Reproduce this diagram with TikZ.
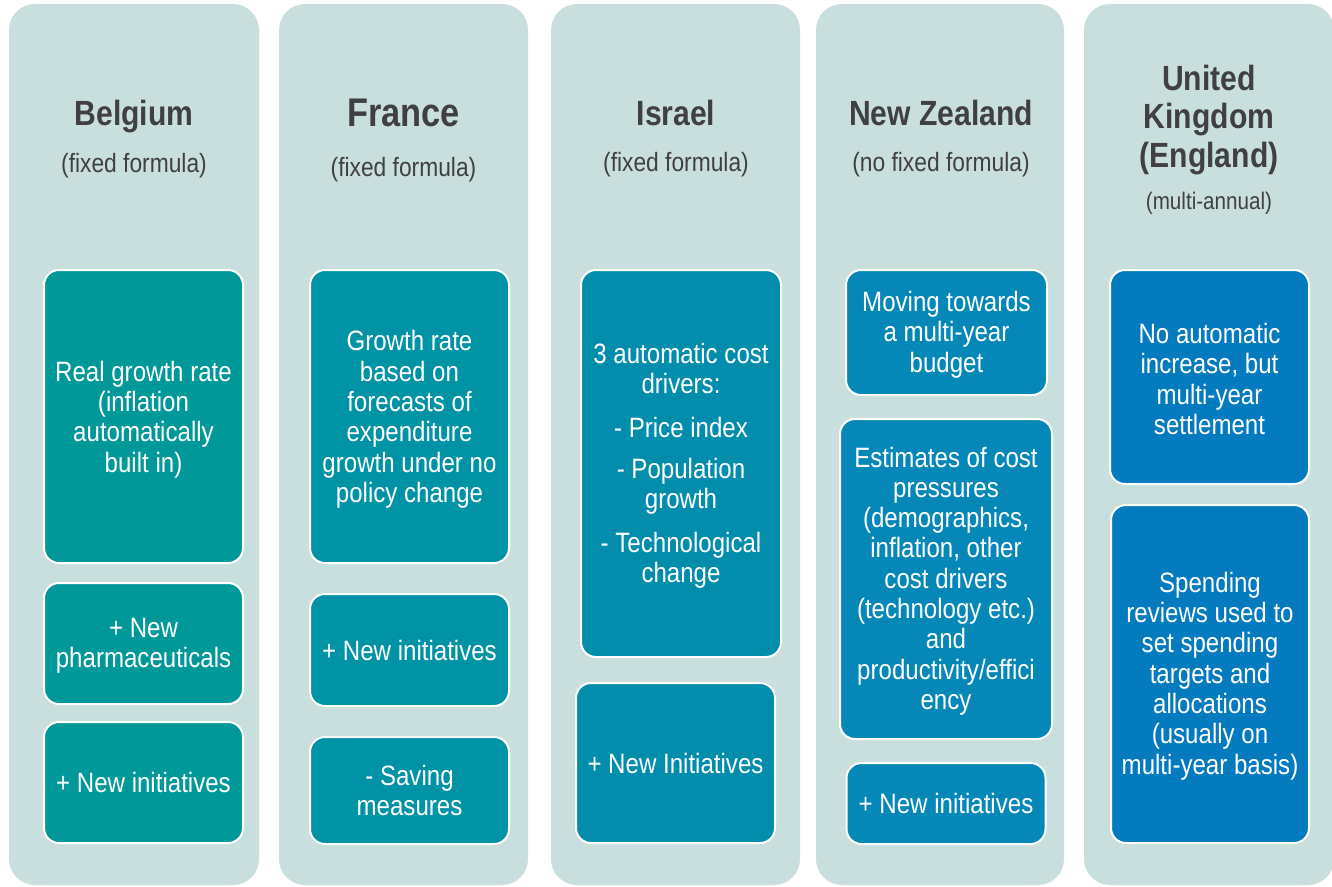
\documentclass[tikz,border=0pt]{standalone}
\usepackage{fontspec}
\setmainfont{Liberation Sans}[FakeStretch=0.86]
\definecolor{panelc}{RGB}{201,223,222}
\definecolor{titlec}{RGB}{64,64,64}
\definecolor{cbe}{RGB}{0,152,153}
\definecolor{cfr}{RGB}{0,146,165}
\definecolor{cis}{RGB}{3,141,172}
\definecolor{cnz}{RGB}{5,136,184}
\definecolor{cuk}{RGB}{5,123,191}
\tikzset{
  panel/.style={fill=panelc, draw=none, rounded corners=26pt, inner sep=0pt},
  ibox/.style={draw=white, line width=2pt, rounded corners=15pt, inner sep=0pt},
  itextbase/.style={text=white, align=center, inner sep=0pt,
    font=\fontsize{28}{30.3}\selectfont},
  itext/.style={itextbase, yshift=-3pt},
  itexttwo/.style={itextbase, yshift=-2pt},
  itextone/.style={itextbase},
  ttl/.style={text=titlec, align=center, font=\bfseries\fontsize{35}{39}\selectfont},
  sub/.style={text=titlec, align=center, font=\fontsize{26.5}{30}\selectfont},
}
\begin{document}
\begin{tikzpicture}[x=1pt,y=-1pt]
\useasboundingbox (0,0) rectangle (1332,886);
\fill[white] (0,0) rectangle (1332,886);
% panels
\node[panel, minimum width=250pt, minimum height=881pt] (p1) at (134,444.5) {};
\node[panel, minimum width=249pt, minimum height=881pt] (p2) at (403.5,444.5) {};
\node[panel, minimum width=249pt, minimum height=881pt] (p3) at (675.5,444.5) {};
\node[panel, minimum width=248pt, minimum height=881pt] (p4) at (940,444.5) {};
\node[panel, minimum width=250pt, minimum height=881pt] (p5) at (1209,444.5) {};
% titles
\node[ttl] (t1) at (134,117) {Belgium};
\node[sub] (s1) at (134,166) {(fixed formula)};
\node[ttl, font=\bfseries\fontsize{40}{44}\selectfont] (t2) at (403.5,113) {France};
\node[sub] (s2) at (403.5,170) {(fixed formula)};
\node[ttl] (t3) at (676,113) {Israel};
\node[sub] (s3) at (676,165) {(fixed formula)};
\node[ttl] (t4) at (941,113) {New Zealand};
\node[sub] (s4) at (941,165) {(no fixed formula)};
\node[ttl] (t5) at (1209,120) {United\\[-0.5pt]Kingdom\\[-0.5pt](England)};
\node[sub, font=\fontsize{24}{28}\selectfont] (s5) at (1209,203) {(multi-annual)};
% Belgium
\node[ibox, fill=cbe, minimum width=199pt, minimum height=293pt] (b1) at (143.5,416.5) {};
\node[itext] (b1t) at (b1.center) {Real growth rate\\(inflation\\automatically\\built in)};
\node[ibox, fill=cbe, minimum width=199pt, minimum height=121pt] (b2) at (143.5,643.5) {};
\node[itexttwo] (b2t) at (b2.center) {+ New\\pharmaceuticals};
\node[ibox, fill=cbe, minimum width=199pt, minimum height=121pt] (b3) at (143.5,782.5) {};
\node[itextone] (b3t) at (b3.center) {+ New initiatives};
% France
\node[ibox, fill=cfr, minimum width=199pt, minimum height=293pt] (f1) at (409.5,416.5) {};
\node[itext] (f1t) at (f1.center) {Growth rate\\based on\\forecasts of\\expenditure\\growth under no\\policy change};
\node[ibox, fill=cfr, minimum width=199pt, minimum height=112pt] (f2) at (409.5,650) {};
\node[itextone] (f2t) at (f2.center) {+ New initiatives};
\node[ibox, fill=cfr, minimum width=199pt, minimum height=107pt] (f3) at (409.5,790.5) {};
\node[itextone] (f3t) at (f3.center) {- Saving\\measures};
% Israel
\node[ibox, fill=cis, minimum width=200pt, minimum height=387pt] (i1) at (681,463.5) {};
\node[itexttwo] (i1t) at (i1.center) {3 automatic cost\\drivers:\\[13.5pt]- Price index\\[11pt]- Population\\growth\\[13pt]- Technological\\change};
\node[ibox, fill=cis, minimum width=199pt, minimum height=160pt] (i2) at (675.5,763) {};
\node[itextone] (i2t) at (i2.center) {+ New Initiatives};
% New Zealand
\node[ibox, fill=cnz, minimum width=201pt, minimum height=125pt] (n1) at (946.5,332.5) {};
\node[itexttwo] (n1t) at (n1.center) {Moving towards\\a multi-year\\budget};
\node[ibox, fill=cnz, minimum width=212pt, minimum height=320pt] (n2) at (946,579) {};
\node[itexttwo] (n2t) at (n2.center) {Estimates of cost\\pressures\\(demographics,\\inflation, other\\cost drivers\\(technology etc.)\\and\\productivity/effici\\ency};
\node[ibox, fill=cnz, minimum width=199pt, minimum height=81pt] (n3) at (946,803.5) {};
\node[itextone] (n3t) at (n3.center) {+ New initiatives};
% United Kingdom
\node[ibox, fill=cuk, minimum width=199pt, minimum height=214pt] (u1) at (1209.5,377) {};
\node[itexttwo] (u1t) at (u1.center) {No automatic\\increase, but\\multi-year\\settlement};
\node[ibox, fill=cuk, minimum width=198pt, minimum height=338pt] (u2) at (1210,674) {};
\node[itexttwo] (u2t) at (u2.center) {Spending\\reviews used to\\set spending\\targets and\\allocations\\(usually on\\multi-year basis)};
\end{tikzpicture}
\end{document}
